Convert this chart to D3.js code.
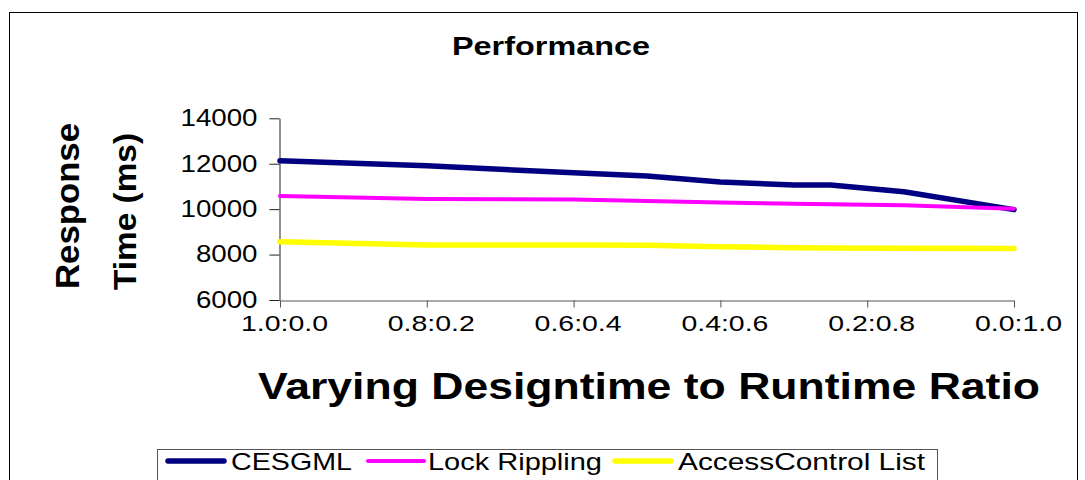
<!DOCTYPE html>
<html>
<head>
<meta charset="utf-8">
<script src="https://cdn.jsdelivr.net/npm/d3@7"></script>
<style>
  html, body { margin: 0; padding: 0; background: #fff; }
  svg { display: block; font-family: "Liberation Sans", Arial, sans-serif; }
</style>
</head>
<body>
<svg id="chart" width="1085" height="480"></svg>
<script>
// ---- data ----
const ratios = [1.0, 0.8, 0.6, 0.5, 0.4, 0.3, 0.25, 0.15, 0.0];
const cesgml = [12130, 11910, 11600, 11460, 11200, 11060, 11060, 10770, 9980];
const lockRippling = [10580, 10450, 10430, 10360, 10290, 10240, 10220, 10170, 10020];
const accessControlList = [8570, 8420, 8420, 8410, 8350, 8300, 8290, 8280, 8270];
const xTickValues = [1.0, 0.8, 0.6, 0.4, 0.2, 0.0];
const xTickLabels = ["1.0:0.0", "0.8:0.2", "0.6:0.4", "0.4:0.6", "0.2:0.8", "0.0:1.0"];
const yTickValues = [6000, 8000, 10000, 12000, 14000];
const seriesNames = ["CESGML", "Lock Rippling", "AccessControl List"];
const seriesColors = ["#000080", "#FF00FF", "#FFFF00"];
const seriesWidths = [5.5, 4, 5.5];

const series = [cesgml, lockRippling, accessControlList];

const svg = d3.select("#chart");

// outer frame
svg.append("rect").attr("x", 9.5).attr("y", 12.5).attr("width", 1068).attr("height", 480)
  .attr("fill", "none").attr("stroke", "#000").attr("stroke-width", 1);

const x = d3.scaleLinear().domain([1.0, 0.0]).range([280, 1014]);
const y = d3.scaleLinear().domain([6000, 14000]).range([300, 118.3]);

// title
svg.append("text").attr("x", 452).attr("y", 55)
  .attr("font-size", 25).attr("font-weight", "bold")
  .attr("textLength", 198).attr("lengthAdjust", "spacingAndGlyphs")
  .text("Performance");

// y axis
const yAxis = d3.axisLeft(y).tickValues(yTickValues).tickSize(10).tickSizeOuter(0).tickPadding(12)
  .tickFormat(d3.format("d"));
const gy = svg.append("g").attr("transform", "translate(279.5,0)").call(yAxis);
gy.select(".domain").attr("stroke", "#222");
gy.selectAll(".tick line").attr("stroke", "#222");
gy.selectAll(".tick text").attr("font-size", 23).attr("fill", "#000")
  .attr("font-family", "Liberation Sans, Arial, sans-serif")
  .attr("textLength", d => String(d).length * 15.4).attr("lengthAdjust", "spacingAndGlyphs");

// x axis
const xAxis = d3.axisBottom(x).tickValues(xTickValues).tickSize(7).tickSizeOuter(0).tickPadding(8)
  .tickFormat((d, i) => xTickLabels[i]);
const gx = svg.append("g").attr("transform", "translate(0,300.5)").call(xAxis);
gx.select(".domain").attr("stroke", "#555");
gx.selectAll(".tick line").attr("stroke", "#555");
gx.selectAll(".tick text").attr("font-size", 22).attr("fill", "#000")
  .attr("font-family", "Liberation Sans, Arial, sans-serif")
  .attr("dx", 4)
  .attr("textLength", 87).attr("lengthAdjust", "spacingAndGlyphs");

// axis titles
svg.append("text")
  .attr("transform", "translate(79,206) rotate(-90)")
  .attr("text-anchor", "middle")
  .attr("font-size", 33).attr("font-weight", "bold")
  .attr("textLength", 166).attr("lengthAdjust", "spacingAndGlyphs")
  .text("Response");
svg.append("text")
  .attr("transform", "translate(136,211.5) rotate(-90)")
  .attr("text-anchor", "middle")
  .attr("font-size", 32).attr("font-weight", "bold")
  .attr("textLength", 157).attr("lengthAdjust", "spacingAndGlyphs")
  .text("Time (ms)");

svg.append("text").attr("x", 258).attr("y", 399)
  .attr("font-size", 36).attr("font-weight", "bold")
  .attr("textLength", 782).attr("lengthAdjust", "spacingAndGlyphs")
  .text("Varying Designtime to Runtime Ratio");

// lines
const line = d3.line().x((d, i) => x(ratios[i])).y(d => y(d));
series.forEach((vals, k) => {
  svg.append("path").datum(vals)
    .attr("d", line)
    .attr("fill", "none")
    .attr("stroke", seriesColors[k])
    .attr("stroke-width", seriesWidths[k])
    .attr("stroke-linejoin", "round")
    .attr("stroke-linecap", "round");
});

// legend
const lg = svg.append("g");
lg.append("rect").attr("x", 157.5).attr("y", 449.5).attr("width", 780).attr("height", 60)
  .attr("fill", "#fff").attr("stroke", "#555").attr("stroke-width", 1);
const legendLineX = [168, 368, 615];
const legendTextX = [231, 428, 678];
const legendTextW = [121, 174, 247];
seriesNames.forEach((name, k) => {
  lg.append("line").attr("x1", legendLineX[k]).attr("x2", legendLineX[k] + 56)
    .attr("y1", 461).attr("y2", 461)
    .attr("stroke", seriesColors[k]).attr("stroke-width", seriesWidths[k])
    .attr("stroke-linecap", "round");
  lg.append("text").attr("x", legendTextX[k]).attr("y", 470)
    .attr("font-size", 24)
    .attr("textLength", legendTextW[k]).attr("lengthAdjust", "spacingAndGlyphs")
    .text(name);
});
</script>
</body>
</html>
